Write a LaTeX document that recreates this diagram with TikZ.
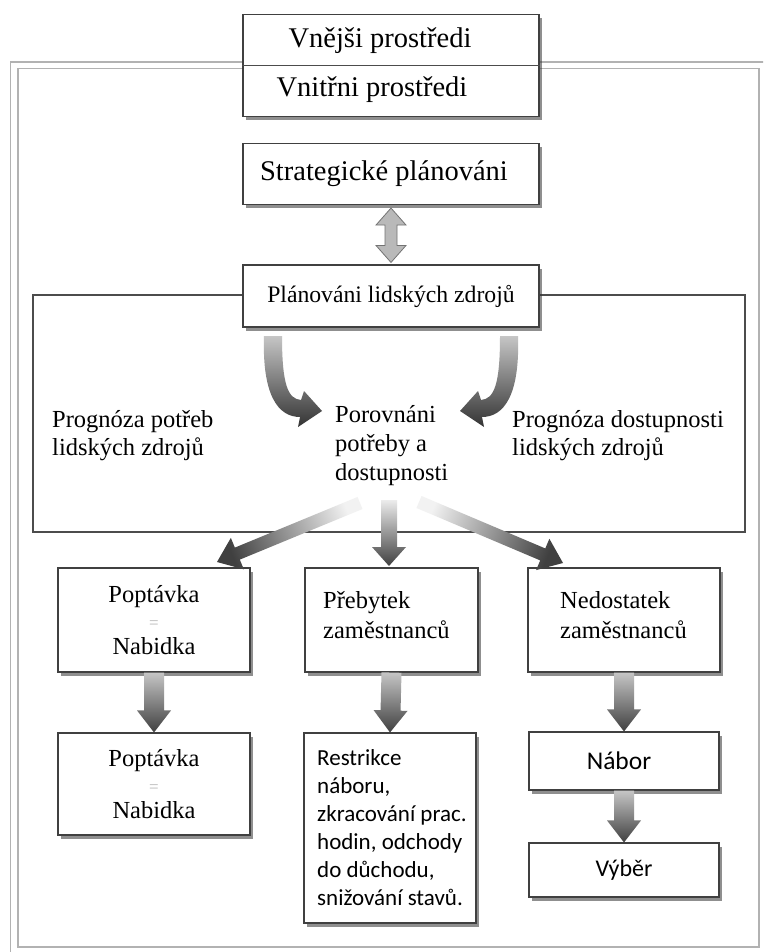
\documentclass[tikz,border=0pt]{standalone}
\usepackage{fontspec}
\setmainfont{Liberation Serif}
\newfontfamily\calfont{Carlito}
\usetikzlibrary{calc,shadows}

% fat arrow: #1 tail, #2 tip, #3 shaft half width, #4 head half width, #5 head length, #6 shading
\newcommand{\fatarr}[6]{%
  \coordinate (hb) at ($(#2)!#5!(#1)$);
  \shade[#6] ($(#1)!#3!90:(#2)$) -- ($(hb)!#3!90:(#2)$) -- ($(hb)!#4!90:(#2)$) -- (#2)
     -- ($(hb)!#4!-90:(#2)$) -- ($(hb)!#3!-90:(#2)$) -- ($(#1)!#3!-90:(#2)$) -- cycle;
}
\newcommand{\eqsign}{{\color{gray!55}\fontsize{17}{17}\selectfont =}}

\begin{document}
\begin{tikzpicture}[x=1pt,y=-1pt,
  box/.style={draw=black!75, line width=1.1pt, fill=white, inner sep=0pt,
    drop shadow={shadow xshift=3pt, shadow yshift=-3.5pt, opacity=0.55, fill=black!80}},
  tA/.style={font=\fontsize{28.5}{32}\selectfont},
  tB/.style={font=\fontsize{24.5}{28}\selectfont, align=left, inner sep=0pt},
  tC/.style={font=\fontsize{24.5}{26}\selectfont, align=center},
  frame/.style={draw=gray!60, line width=1.4pt},
  vshade/.style={top color=gray!45, bottom color=black!75},
]
\useasboundingbox (0,0) rectangle (763,952);
\clip (0,0) rectangle (763,952);
\fill[white] (0,0) rectangle (763,952);

% double frame
\draw[frame] (10.5,62) rectangle (775,960);
\draw[frame] (18,68.5) rectangle (759,947);

% inner planning area
\node[draw=black!70, line width=1.2pt, minimum width=712pt, minimum height=237pt, inner sep=0pt] (hrarea) at (389,413.5) {};

% top box
\node[box, minimum width=296pt, minimum height=102pt] (env) at (391,65.5) {};
\draw[black!70, line width=1.1pt] (env.west) -- (env.east);
\node[tA] (ext) at (380,41) {Vnějši prostředi};
\node[tA] (int) at (372,90) {Vnitřni prostředi};

% strategic planning
\node[box, tA, minimum width=296pt, minimum height=61pt] (strat) at (391,174) {Strategické plánováni\kern14pt};

% HR planning
\node[box, font=\fontsize{23.7}{28}\selectfont, minimum width=296pt, minimum height=62pt] (hrp) at (391,296) {Plánováni lidských zdrojů};

% double arrow
\coordinate (da1) at ($(strat.south)+(0,3)$);
\coordinate (da2) at ($(hrp.north)+(0,-2)$);
\filldraw[fill=gray!55, draw=black!55, line width=0.8pt]
  (da1) -- ($(da1)+(15,17)$) -- ($(da1)+(6,17)$) -- ($(da2)+(6,-17)$) -- ($(da2)+(15,-17)$)
  -- (da2) -- ($(da2)+(-15,-17)$) -- ($(da2)+(-6,-17)$) -- ($(da1)+(-6,17)$) -- ($(da1)+(-15,17)$) -- cycle;

% curved arrows
\shade[top color=gray!45, bottom color=black!80]
  (264,336) .. controls (262,395) and (278,417) .. (300,417) -- (298,427) -- (322,411) -- (304,391)
  -- (301,400) .. controls (288,399) and (282,385) .. (282,336) -- cycle;
\shade[top color=gray!45, bottom color=black!80]
  (518,336) .. controls (520,395) and (504,417) .. (482,417) -- (484,427) -- (460,411) -- (478,391)
  -- (481,400) .. controls (494,399) and (500,385) .. (500,336) -- cycle;

% texts in planning area
\node[tB, anchor=west] (need) at (52,436) {Prognóza potřeb\\lidských zdrojů};
\node[tB, anchor=west, font=\fontsize{24.5}{29}\selectfont] (cmp) at (335,446) {Porovnáni\\potřeby a\\dostupnosti};
\node[tB, anchor=west] (avail) at (512,436) {Prognóza dostupnosti\\lidských zdrojů};

% row 1
\node[box, tC, minimum width=192pt, minimum height=104pt] (pop1) at (154,620)
  {Poptávka\\\eqsign\\Nabidka};
\node[box, minimum width=173pt, minimum height=104pt] (preb1) at (391.5,620) {};
\node[tB, anchor=west, font=\fontsize{24.5}{30}\selectfont] (preb1t) at (323,615.5) {Přebytek\\zaměstnanců};
\node[box, minimum width=192pt, minimum height=104pt] (ned1) at (624,620) {};
\node[tB, anchor=west, font=\fontsize{24.5}{30}\selectfont] (ned1t) at (560,615.5) {Nedostatek\\zaměstnanců};

% row 2
\node[box, tC, minimum width=192pt, minimum height=102pt] (pop2) at (154,784)
  {Poptávka\\\eqsign\\Nabidka};
\node[box, minimum width=172pt, minimum height=190pt] (restr) at (390,828) {};
\node[anchor=west, align=left, inner sep=0pt, font=\calfont\fontsize{23}{28}\selectfont] (restrt) at (317,827.5)
  {Restrikce\\náboru,\\zkracování prac.\\hodin, odchody\\do důchodu,\\snižování stavů.};
\node[box, minimum width=190pt, minimum height=58pt, font=\calfont\fontsize{25.5}{30}\selectfont] (nabor) at (624,761) {Nábor\kern10pt};
\node[box, minimum width=190pt, minimum height=54pt, font=\calfont\fontsize{24}{28}\selectfont] (vyber) at (624,870) {Výběr};

% fan-out arrows
\coordinate (fL0) at (360,503); \coordinate (fL1) at (217,562);
\fatarr{fL0}{fL1}{6.5pt}{17pt}{22pt}{top color=gray!10, bottom color=black!75, shading angle=-67.6}
\coordinate (fM0) at (389,500); \coordinate (fM1) at (389,566);
\fatarr{fM0}{fM1}{8pt}{17pt}{19pt}{top color=gray!15, bottom color=black!75}
\coordinate (fR0) at (419,502); \coordinate (fR1) at (563,563);
\fatarr{fR0}{fR1}{6.5pt}{17pt}{22pt}{top color=gray!10, bottom color=black!75, shading angle=67.2}

% vertical arrows
\fatarr{pop1.south}{pop2.north}{10pt}{17pt}{22pt}{vshade}
\fatarr{preb1.south}{restr.north}{10pt}{17pt}{22pt}{vshade}
\fatarr{ned1.south}{nabor.north}{10pt}{17pt}{22pt}{vshade}
\fatarr{nabor.south}{vyber.north}{10pt}{17pt}{22pt}{vshade}
\end{tikzpicture}
\end{document}
